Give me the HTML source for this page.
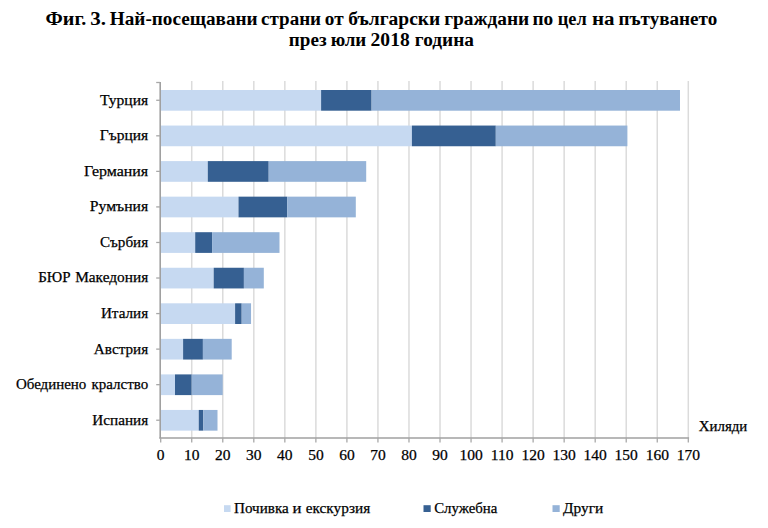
<!DOCTYPE html>
<html><head><meta charset="utf-8"><style>
html,body{margin:0;padding:0;background:#fff;width:768px;height:528px;overflow:hidden}
svg{display:block}
.ax{font-family:"Liberation Serif",serif;font-size:15.5px;fill:#000;stroke:#000;stroke-width:0.25px}
.nx{font-family:"Liberation Serif",serif;font-size:15.5px;fill:#000;stroke:#000;stroke-width:0.25px}
.tt{font-family:"Liberation Serif",serif;font-size:18px;font-weight:bold;fill:#000}
</style></head><body>
<svg width="768" height="528" viewBox="0 0 768 528">
<line x1="191.73" y1="81.0" x2="191.73" y2="438.00" stroke="#DBDBDB" stroke-width="1.5"/>
<line x1="222.77" y1="81.0" x2="222.77" y2="438.00" stroke="#DBDBDB" stroke-width="1.5"/>
<line x1="253.81" y1="81.0" x2="253.81" y2="438.00" stroke="#DBDBDB" stroke-width="1.5"/>
<line x1="284.84" y1="81.0" x2="284.84" y2="438.00" stroke="#DBDBDB" stroke-width="1.5"/>
<line x1="315.88" y1="81.0" x2="315.88" y2="438.00" stroke="#DBDBDB" stroke-width="1.5"/>
<line x1="346.91" y1="81.0" x2="346.91" y2="438.00" stroke="#DBDBDB" stroke-width="1.5"/>
<line x1="377.94" y1="81.0" x2="377.94" y2="438.00" stroke="#DBDBDB" stroke-width="1.5"/>
<line x1="408.98" y1="81.0" x2="408.98" y2="438.00" stroke="#DBDBDB" stroke-width="1.5"/>
<line x1="440.01" y1="81.0" x2="440.01" y2="438.00" stroke="#DBDBDB" stroke-width="1.5"/>
<line x1="471.05" y1="81.0" x2="471.05" y2="438.00" stroke="#DBDBDB" stroke-width="1.5"/>
<line x1="502.08" y1="81.0" x2="502.08" y2="438.00" stroke="#DBDBDB" stroke-width="1.5"/>
<line x1="533.12" y1="81.0" x2="533.12" y2="438.00" stroke="#DBDBDB" stroke-width="1.5"/>
<line x1="564.15" y1="81.0" x2="564.15" y2="438.00" stroke="#DBDBDB" stroke-width="1.5"/>
<line x1="595.19" y1="81.0" x2="595.19" y2="438.00" stroke="#DBDBDB" stroke-width="1.5"/>
<line x1="626.22" y1="81.0" x2="626.22" y2="438.00" stroke="#DBDBDB" stroke-width="1.5"/>
<line x1="657.26" y1="81.0" x2="657.26" y2="438.00" stroke="#DBDBDB" stroke-width="1.5"/>
<line x1="688.30" y1="81.0" x2="688.30" y2="438.00" stroke="#DBDBDB" stroke-width="1.5"/>
<rect x="161" y="90.00" width="160.10" height="20.7" fill="#C6D9F1"/>
<rect x="321.10" y="90.00" width="50.50" height="20.7" fill="#366092"/>
<rect x="371.60" y="90.00" width="308.40" height="20.7" fill="#95B3D8"/>
<rect x="161" y="125.55" width="250.90" height="20.7" fill="#C6D9F1"/>
<rect x="411.90" y="125.55" width="83.90" height="20.7" fill="#366092"/>
<rect x="495.80" y="125.55" width="131.60" height="20.7" fill="#95B3D8"/>
<rect x="161" y="161.10" width="46.80" height="20.7" fill="#C6D9F1"/>
<rect x="207.80" y="161.10" width="60.90" height="20.7" fill="#366092"/>
<rect x="268.70" y="161.10" width="97.50" height="20.7" fill="#95B3D8"/>
<rect x="161" y="196.65" width="77.50" height="20.7" fill="#C6D9F1"/>
<rect x="238.50" y="196.65" width="48.70" height="20.7" fill="#366092"/>
<rect x="287.20" y="196.65" width="68.60" height="20.7" fill="#95B3D8"/>
<rect x="161" y="232.20" width="34.20" height="20.7" fill="#C6D9F1"/>
<rect x="195.20" y="232.20" width="16.90" height="20.7" fill="#366092"/>
<rect x="212.10" y="232.20" width="67.40" height="20.7" fill="#95B3D8"/>
<rect x="161" y="267.75" width="52.70" height="20.7" fill="#C6D9F1"/>
<rect x="213.70" y="267.75" width="30.20" height="20.7" fill="#366092"/>
<rect x="243.90" y="267.75" width="19.90" height="20.7" fill="#95B3D8"/>
<rect x="161" y="303.30" width="74.10" height="20.7" fill="#C6D9F1"/>
<rect x="235.10" y="303.30" width="6.60" height="20.7" fill="#366092"/>
<rect x="241.70" y="303.30" width="9.35" height="20.7" fill="#95B3D8"/>
<rect x="161" y="338.85" width="22.10" height="20.7" fill="#C6D9F1"/>
<rect x="183.10" y="338.85" width="19.80" height="20.7" fill="#366092"/>
<rect x="202.90" y="338.85" width="28.80" height="20.7" fill="#95B3D8"/>
<rect x="161" y="374.40" width="14.00" height="20.7" fill="#C6D9F1"/>
<rect x="175.00" y="374.40" width="16.70" height="20.7" fill="#366092"/>
<rect x="191.70" y="374.40" width="31.00" height="20.7" fill="#95B3D8"/>
<rect x="161" y="409.95" width="37.75" height="20.7" fill="#C6D9F1"/>
<rect x="198.75" y="409.95" width="4.55" height="20.7" fill="#366092"/>
<rect x="203.30" y="409.95" width="14.20" height="20.7" fill="#95B3D8"/>
<line x1="160.20" y1="81.9" x2="160.20" y2="438.50" stroke="#A0A0A0" stroke-width="1.6"/>
<line x1="159.40" y1="438.00" x2="689.10" y2="438.00" stroke="#A0A0A0" stroke-width="1.6"/>
<line x1="156.20" y1="82.5" x2="160.20" y2="82.5" stroke="#A8A8A8" stroke-width="1.3"/>
<line x1="156.20" y1="100.28" x2="160.20" y2="100.28" stroke="#A8A8A8" stroke-width="1.3"/>
<line x1="156.20" y1="135.82" x2="160.20" y2="135.82" stroke="#A8A8A8" stroke-width="1.3"/>
<line x1="156.20" y1="171.38" x2="160.20" y2="171.38" stroke="#A8A8A8" stroke-width="1.3"/>
<line x1="156.20" y1="206.92" x2="160.20" y2="206.92" stroke="#A8A8A8" stroke-width="1.3"/>
<line x1="156.20" y1="242.47" x2="160.20" y2="242.47" stroke="#A8A8A8" stroke-width="1.3"/>
<line x1="156.20" y1="278.02" x2="160.20" y2="278.02" stroke="#A8A8A8" stroke-width="1.3"/>
<line x1="156.20" y1="313.57" x2="160.20" y2="313.57" stroke="#A8A8A8" stroke-width="1.3"/>
<line x1="156.20" y1="349.12" x2="160.20" y2="349.12" stroke="#A8A8A8" stroke-width="1.3"/>
<line x1="156.20" y1="384.67" x2="160.20" y2="384.67" stroke="#A8A8A8" stroke-width="1.3"/>
<line x1="156.20" y1="420.22" x2="160.20" y2="420.22" stroke="#A8A8A8" stroke-width="1.3"/>
<line x1="160.70" y1="438.00" x2="160.70" y2="442.50" stroke="#A8A8A8" stroke-width="1.3"/>
<line x1="191.73" y1="438.00" x2="191.73" y2="442.50" stroke="#A8A8A8" stroke-width="1.3"/>
<line x1="222.77" y1="438.00" x2="222.77" y2="442.50" stroke="#A8A8A8" stroke-width="1.3"/>
<line x1="253.81" y1="438.00" x2="253.81" y2="442.50" stroke="#A8A8A8" stroke-width="1.3"/>
<line x1="284.84" y1="438.00" x2="284.84" y2="442.50" stroke="#A8A8A8" stroke-width="1.3"/>
<line x1="315.88" y1="438.00" x2="315.88" y2="442.50" stroke="#A8A8A8" stroke-width="1.3"/>
<line x1="346.91" y1="438.00" x2="346.91" y2="442.50" stroke="#A8A8A8" stroke-width="1.3"/>
<line x1="377.94" y1="438.00" x2="377.94" y2="442.50" stroke="#A8A8A8" stroke-width="1.3"/>
<line x1="408.98" y1="438.00" x2="408.98" y2="442.50" stroke="#A8A8A8" stroke-width="1.3"/>
<line x1="440.01" y1="438.00" x2="440.01" y2="442.50" stroke="#A8A8A8" stroke-width="1.3"/>
<line x1="471.05" y1="438.00" x2="471.05" y2="442.50" stroke="#A8A8A8" stroke-width="1.3"/>
<line x1="502.08" y1="438.00" x2="502.08" y2="442.50" stroke="#A8A8A8" stroke-width="1.3"/>
<line x1="533.12" y1="438.00" x2="533.12" y2="442.50" stroke="#A8A8A8" stroke-width="1.3"/>
<line x1="564.15" y1="438.00" x2="564.15" y2="442.50" stroke="#A8A8A8" stroke-width="1.3"/>
<line x1="595.19" y1="438.00" x2="595.19" y2="442.50" stroke="#A8A8A8" stroke-width="1.3"/>
<line x1="626.22" y1="438.00" x2="626.22" y2="442.50" stroke="#A8A8A8" stroke-width="1.3"/>
<line x1="657.26" y1="438.00" x2="657.26" y2="442.50" stroke="#A8A8A8" stroke-width="1.3"/>
<line x1="688.30" y1="438.00" x2="688.30" y2="442.50" stroke="#A8A8A8" stroke-width="1.3"/>
<text x="160.70" y="460" text-anchor="middle" class="nx">0</text>
<text x="191.73" y="460" text-anchor="middle" class="nx">10</text>
<text x="222.77" y="460" text-anchor="middle" class="nx">20</text>
<text x="253.81" y="460" text-anchor="middle" class="nx">30</text>
<text x="284.84" y="460" text-anchor="middle" class="nx">40</text>
<text x="315.88" y="460" text-anchor="middle" class="nx">50</text>
<text x="346.91" y="460" text-anchor="middle" class="nx">60</text>
<text x="377.94" y="460" text-anchor="middle" class="nx">70</text>
<text x="408.98" y="460" text-anchor="middle" class="nx">80</text>
<text x="440.01" y="460" text-anchor="middle" class="nx">90</text>
<text x="471.05" y="460" text-anchor="middle" class="nx">100</text>
<text x="502.08" y="460" text-anchor="middle" class="nx">110</text>
<text x="533.12" y="460" text-anchor="middle" class="nx">120</text>
<text x="564.15" y="460" text-anchor="middle" class="nx">130</text>
<text x="595.19" y="460" text-anchor="middle" class="nx">140</text>
<text x="626.22" y="460" text-anchor="middle" class="nx">150</text>
<text x="657.26" y="460" text-anchor="middle" class="nx">160</text>
<text x="688.30" y="460" text-anchor="middle" class="nx">170</text>
<text id="c0" x="148.20" y="104.68" text-anchor="end" class="ax" textLength="48.13" lengthAdjust="spacingAndGlyphs">Турция</text>
<text id="c1" x="148.20" y="140.22" text-anchor="end" class="ax" textLength="48.40" lengthAdjust="spacingAndGlyphs">Гърция</text>
<text id="c2" x="148.22" y="175.78" text-anchor="end" class="ax" textLength="64.32" lengthAdjust="spacingAndGlyphs">Германия</text>
<text id="c3" x="148.21" y="211.32" text-anchor="end" class="ax" textLength="58.44" lengthAdjust="spacingAndGlyphs">Румъния</text>
<text id="c4" x="148.18" y="246.88" text-anchor="end" class="ax" textLength="48.25" lengthAdjust="spacingAndGlyphs">Сърбия</text>
<text id="c5a" x="38.14" y="282.42" text-anchor="start" class="ax" textLength="32.39" lengthAdjust="spacingAndGlyphs">БЮР</text>
<text id="c5b" x="148.19" y="282.42" text-anchor="end" class="ax" textLength="73.03" lengthAdjust="spacingAndGlyphs">Македония</text>
<text id="c6" x="148.18" y="317.97" text-anchor="end" class="ax" textLength="47.30" lengthAdjust="spacingAndGlyphs">Италия</text>
<text id="c7" x="148.18" y="353.52" text-anchor="end" class="ax" textLength="54.33" lengthAdjust="spacingAndGlyphs">Австрия</text>
<text id="c8a" x="15.91" y="389.07" text-anchor="start" class="ax" textLength="70.43" lengthAdjust="spacingAndGlyphs">Обединено</text>
<text id="c8b" x="148.17" y="389.07" text-anchor="end" class="ax" textLength="56.71" lengthAdjust="spacingAndGlyphs">кралство</text>
<text id="c9" x="148.18" y="424.62" text-anchor="end" class="ax" textLength="55.84" lengthAdjust="spacingAndGlyphs">Испания</text>
<text id="hil" x="698.81" y="431.10" text-anchor="start" class="ax" textLength="48.50" lengthAdjust="spacingAndGlyphs">Хиляди</text>
<text id="l1a" x="234.01" y="513.40" text-anchor="start" class="ax" textLength="54.72" lengthAdjust="spacingAndGlyphs">Почивка</text>
<text id="l1b" x="292.64" y="513.40" text-anchor="start" class="ax" textLength="8.97" lengthAdjust="spacingAndGlyphs">и</text>
<text id="l1c" x="305.70" y="513.40" text-anchor="start" class="ax" textLength="64.64" lengthAdjust="spacingAndGlyphs">екскурзия</text>
<text id="l2" x="434.21" y="513.40" text-anchor="start" class="ax" textLength="63.15" lengthAdjust="spacingAndGlyphs">Служебна</text>
<text id="l3" x="563.10" y="513.40" text-anchor="start" class="ax" textLength="40.22" lengthAdjust="spacingAndGlyphs">Други</text>
<text id="t1_0" x="45.61" y="24.80" text-anchor="start" class="tt" textLength="40.73" lengthAdjust="spacingAndGlyphs">Фиг.</text>
<text id="t1_1" x="90.35" y="24.80" text-anchor="start" class="tt" textLength="15.75" lengthAdjust="spacingAndGlyphs">3.</text>
<text id="t1_2" x="109.85" y="24.80" text-anchor="start" class="tt" textLength="147.79" lengthAdjust="spacingAndGlyphs">Най-посещавани</text>
<text id="t1_3" x="261.04" y="24.80" text-anchor="start" class="tt" textLength="60.05" lengthAdjust="spacingAndGlyphs">страни</text>
<text id="t1_4" x="324.85" y="24.80" text-anchor="start" class="tt" textLength="18.79" lengthAdjust="spacingAndGlyphs">от</text>
<text id="t1_5" x="348.26" y="24.80" text-anchor="start" class="tt" textLength="92.00" lengthAdjust="spacingAndGlyphs">български</text>
<text id="t1_6" x="444.26" y="24.80" text-anchor="start" class="tt" textLength="85.02" lengthAdjust="spacingAndGlyphs">граждани</text>
<text id="t1_7" x="532.40" y="24.80" text-anchor="start" class="tt" textLength="20.82" lengthAdjust="spacingAndGlyphs">по</text>
<text id="t1_8" x="557.69" y="24.80" text-anchor="start" class="tt" textLength="28.99" lengthAdjust="spacingAndGlyphs">цел</text>
<text id="t1_9" x="591.92" y="24.80" text-anchor="start" class="tt" textLength="22.60" lengthAdjust="spacingAndGlyphs">на</text>
<text id="t1_10" x="618.45" y="24.80" text-anchor="start" class="tt" textLength="98.76" lengthAdjust="spacingAndGlyphs">пътуването</text>
<text id="t2_0" x="288.86" y="46.30" text-anchor="start" class="tt" textLength="37.68" lengthAdjust="spacingAndGlyphs">през</text>
<text id="t2_1" x="330.66" y="46.30" text-anchor="start" class="tt" textLength="35.66" lengthAdjust="spacingAndGlyphs">юли</text>
<text id="t2_2" x="370.59" y="46.30" text-anchor="start" class="tt" textLength="39.14" lengthAdjust="spacingAndGlyphs">2018</text>
<text id="t2_3" x="414.85" y="46.30" text-anchor="start" class="tt" textLength="59.08" lengthAdjust="spacingAndGlyphs">година</text>
<rect x="224" y="505.2" width="6.6" height="6.8" fill="#C6D9F1"/>
<rect x="423.5" y="505.2" width="7.2" height="6.8" fill="#366092"/>
<rect x="552.5" y="505.2" width="7.2" height="6.8" fill="#95B3D8"/>
</svg>
</body></html>
